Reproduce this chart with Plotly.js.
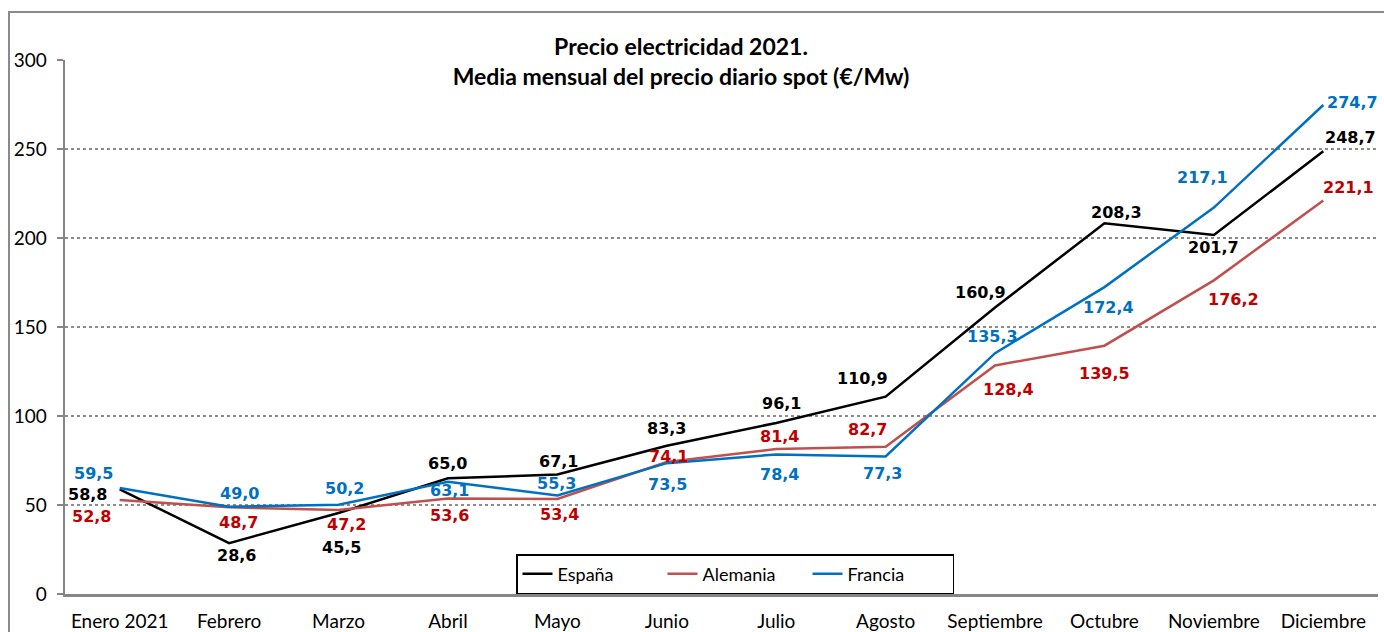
<!DOCTYPE html>
<html>
<head>
<meta charset="utf-8">
<script src="https://cdn.plot.ly/plotly-3.0.1.min.js"></script>
<style>
  html, body { margin: 0; padding: 0; background: #fff; overflow: hidden; }
  #wrap { position: relative; width: 1384px; height: 632px; }
  #chart { width: 1384px; height: 632px; }
  #frame { position: absolute; left: 8px; top: 11px; width: 1400px; height: 700px;
           border: 2px solid #8a8a8a; pointer-events: none; box-sizing: border-box; }
</style>
</head>
<body>
<div id="wrap">
  <div id="chart"></div>
  <div id="frame"></div>
</div>
<script>
// ---- data ----
const months = ['Enero 2021', 'Febrero', 'Marzo', 'Abril', 'Mayo', 'Junio', 'Julio', 'Agosto', 'Septiembre', 'Octubre', 'Noviembre', 'Diciembre'];
const espana   = [58.8, 28.6, 45.5, 65.0, 67.1, 83.3, 96.1, 110.9, 160.9, 208.3, 201.7, 248.7];
const alemania = [52.8, 48.7, 47.2, 53.6, 53.4, 74.1, 81.4, 82.7, 128.4, 139.5, 176.2, 221.1];
const francia  = [59.5, 49.0, 50.2, 63.1, 55.3, 73.5, 78.4, 77.3, 135.3, 172.4, 217.1, 274.7];
const seriesNames = ['España', 'Alemania', 'Francia'];

// ---- style ----
const lineColors  = ['#000000', '#C0504D', '#0070C0'];
const labelColors = ['#000000', '#C00000', '#0070C0'];
// label offsets in px [dx, dy-up] per point
const offsets = [
  [[-32,-5],[7,-12],[3,-34],[0,15],[1,13],[0,17],[5,19],[-23,18],[-15,15],[12,11],[0,-13],[27,14]],
  [[-28,-16],[9,-15],[8,-15],[2,-17],[2,-16],[2,6],[3,13],[-18,17],[13,-24],[0,-28],[20,-19],[25,13]],
  [[-26,15],[10,13],[6,16],[2,-9],[-1,12],[1,-21],[3,-20],[-3,-17],[-3,17],[4,-20],[-11,30],[29,3]]
];

const allSeries = [espana, alemania, francia];
const fmt = v => v.toFixed(1).replace('.', ',');

const traces = allSeries.map((vals, s) => ({
  type: 'scatter', mode: 'lines', name: seriesNames[s],
  x: months, y: vals,
  line: { color: lineColors[s], width: 2.5 },
  hoverinfo: 'skip'
}));

const annotations = [];
allSeries.forEach((vals, s) => {
  vals.forEach((v, i) => {
    annotations.push({
      x: months[i], y: v, xref: 'x', yref: 'y',
      text: fmt(v), showarrow: false,
      xshift: offsets[s][i][0], yshift: offsets[s][i][1],
      font: { family: 'DejaVu Sans', size: 16, color: labelColors[s], weight: 'bold' }
    });
  });
});

const layout = {
  width: 1384, height: 632,
  margin: { l: 65, r: 6, t: 60, b: 38 },
  paper_bgcolor: '#ffffff', plot_bgcolor: '#ffffff',
  title: {
    text: '<b>Precio electricidad 2021.</b><br><b>Media mensual del precio diario spot (€/Mw)</b>',
    x: 681 / 1384, xanchor: 'center', xref: 'container',
    y: 1 - 55 / 632, yanchor: 'middle', yref: 'container',
    font: { family: 'Lato', size: 23, color: '#000000' }
  },
  xaxis: {
    type: 'category', range: [-0.5, 11.5],
    showline: true, linecolor: '#868686', linewidth: 2.5,
    ticks: '', showgrid: false, zeroline: false,
    tickfont: { family: 'Lato', size: 19, color: '#000000' },
    ticklabelstandoff: 9
  },
  yaxis: {
    range: [0, 300], dtick: 50, tick0: 0,
    showline: true, linecolor: '#868686', linewidth: 2.5,
    ticks: 'outside', ticklen: 6, tickwidth: 2, tickcolor: '#868686',
    showgrid: true, gridcolor: '#8c8c8c', gridwidth: 1.2, griddash: 'dot',
    zeroline: false,
    tickfont: { family: 'Lato', size: 19, color: '#000000' },
    ticklabelstandoff: 6
  },
  showlegend: true,
  legend: {
    orientation: 'h',
    x: (516 - 65) / 1313, xanchor: 'left',
    y: (594 - 554) / 534, yanchor: 'top',
    bgcolor: '#ffffff', bordercolor: '#000000', borderwidth: 1.5,
    font: { family: 'Lato', size: 18, color: '#000000' },
    entrywidth: 100, entrywidthmode: 'pixels', tracegroupgap: 0
  },
  annotations: annotations
};

Plotly.newPlot('chart', traces, layout, { displayModeBar: false, staticPlot: true });
</script>
</body>
</html>
